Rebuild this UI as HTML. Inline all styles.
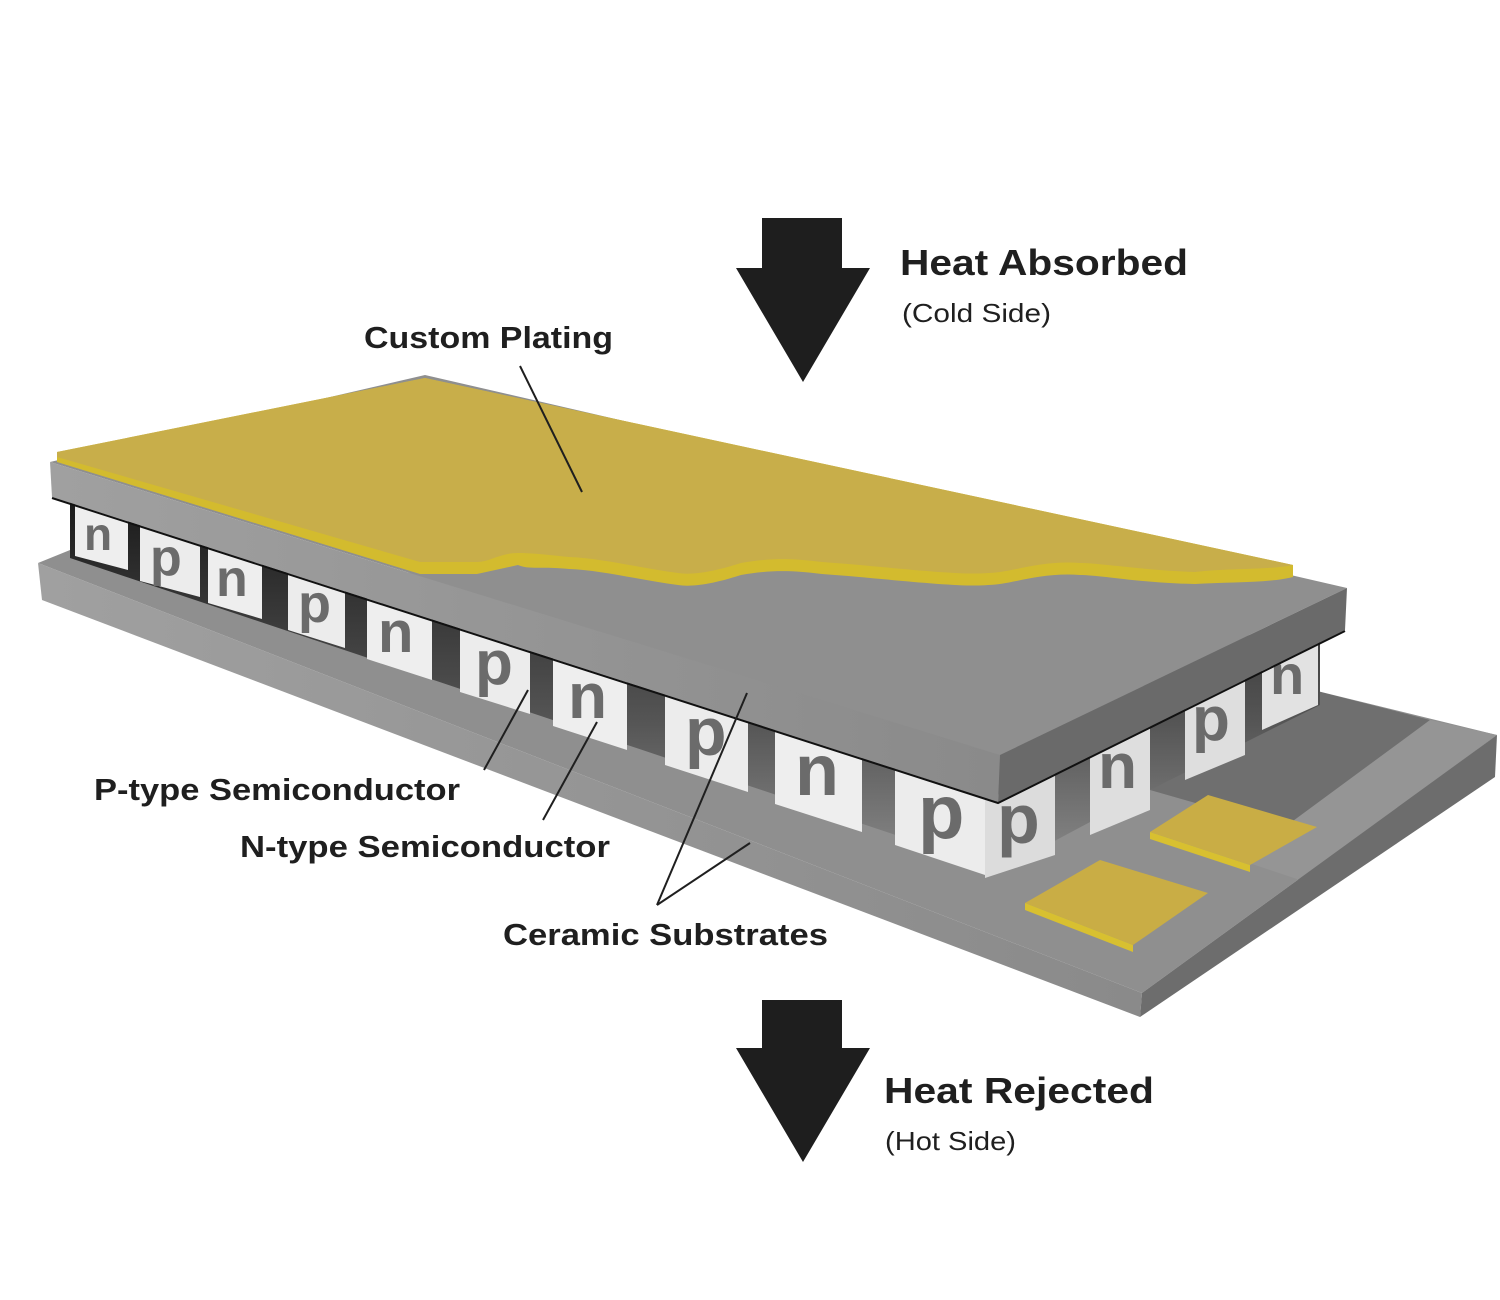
<!DOCTYPE html>
<html><head><meta charset="utf-8"><style>
html,body{margin:0;padding:0;background:#fff;}
svg{display:block;}
.b{font-family:"Liberation Sans",sans-serif;font-weight:bold;fill:#1f1f1f;}
.r{font-family:"Liberation Sans",sans-serif;fill:#1f1f1f;}
.L{font-family:"Liberation Sans",sans-serif;font-weight:bold;fill:#6b6b6b;}
</style></head><body>
<svg width="1500" height="1300" viewBox="0 0 1500 1300" xmlns="http://www.w3.org/2000/svg">
<defs>
<linearGradient id="gap" x1="0" y1="0" x2="0" y2="1">
<stop offset="0" stop-color="#1a1a1a"/><stop offset="0.6" stop-color="#555"/><stop offset="1" stop-color="#8a8a8a"/>
</linearGradient>
<linearGradient id="front" x1="0" y1="0" x2="1" y2="0">
<stop offset="0" stop-color="#a0a0a0"/><stop offset="1" stop-color="#8a8a8a"/>
</linearGradient>
</defs>

<!-- Bottom substrate -->
<polygon points="38,563 1142,993 1497,735 1313,690 1313,640 75,548" fill="#8f8f8f"/>
<polygon points="1150,790 1313,690 1430,720 1290,830" fill="#6f6f6f"/>
<polygon points="1430,720 1497,735 1300,880 1240,860" fill="#959595"/>
<polygon points="38,563 1142,993 1140,1017 42,600" fill="url(#front)"/>
<polygon points="1142,993 1497,735 1495,777 1140,1017" fill="#6d6d6d"/>

<!-- gold pads -->
<polygon points="1025,903 1100,860 1208,893 1133,945" fill="#c9ad45"/>
<polygon points="1025,903 1133,945 1133,952 1025,910" fill="#d8c030"/>
<polygon points="1150,832 1208,795 1317,827 1250,865" fill="#c9ad45"/>
<polygon points="1150,832 1250,865 1250,872 1150,839" fill="#d8c030"/>

<!-- gap between plates -->
<polygon points="70,499 998,802 1320,640 1320,705 1150,790 1000,870 70,558" fill="url(#gap)"/>

<!-- pellets front -->
<g>
<polygon points="75,504 128,521 128,570 75,556" fill="#eee"/><text x="84" y="550" class="L" font-size="46">n</text>
<polygon points="140,525 200,544 200,597 140,581" fill="#ececec"/><text x="150" y="575" class="L" font-size="52">p</text>
<polygon points="208,547 262,564 262,619 208,603" fill="#eee"/><text x="216" y="596" class="L" font-size="52">n</text>
<polygon points="288,573 345,591 345,648 288,630" fill="#ececec"/><text x="298" y="622" class="L" font-size="54">p</text>
<polygon points="367,598 432,619 432,680 367,659" fill="#eee"/><text x="378" y="652" class="L" font-size="58">n</text>
<polygon points="460,628 530,650 530,714 460,692" fill="#ececec"/><text x="475" y="684" class="L" font-size="62">p</text>
<polygon points="553,658 627,682 627,750 553,726" fill="#eee"/><text x="568" y="718" class="L" font-size="64">n</text>
<polygon points="665,694 748,721 748,792 665,765" fill="#ececec"/><text x="685" y="755" class="L" font-size="68">p</text>
<polygon points="775,730 862,758 862,832 775,804" fill="#eee"/><text x="795" y="795" class="L" font-size="72">n</text>
<polygon points="895,768 985,798 985,875 895,845" fill="#ececec"/><text x="918" y="838" class="L" font-size="76">p</text>
<polygon points="985,800 1055,770 1055,855 985,878" fill="#dcdcdc"/><text x="997" y="843" class="L" font-size="70">p</text>
<polygon points="1090,753 1150,725 1150,810 1090,835" fill="#dedede"/><text x="1098" y="788" class="L" font-size="64">n</text>
<polygon points="1185,706 1245,678 1245,755 1185,780" fill="#dedede"/><text x="1192" y="740" class="L" font-size="62">p</text>
<polygon points="1262,668 1318,642 1318,705 1262,730" fill="#e2e2e2"/><text x="1270" y="694" class="L" font-size="56">n</text>
</g>

<!-- Top substrate -->
<polygon points="50,462 425,375 1347,588 1000,755" fill="#8f8f8f"/>
<polygon points="50,462 1000,755 998,802 52,497" fill="url(#front)"/>
<polygon points="1000,755 1347,588 1345,630 998,802" fill="#6a6a6a"/>
<polyline points="52,498 998,803 1345,631" fill="none" stroke="#111" stroke-width="2"/>

<!-- Gold plating -->
<path d="M57,452 L425,378 L1293,565 L1293,577 C1270,583 1230,582 1195,584 C1140,583 1100,575 1080,575 C1040,572 1010,585 988,585 C960,588 880,578 822,574 C790,570 770,570 741,575 C710,585 690,587 678,585 C640,580 600,570 569,569 C540,566 530,570 518,565 L477,574 L420,574 L57,462 Z" fill="#d3bb2e"/>
<path d="M57,452 L425,378 L1293,565 C1270,570 1230,568 1195,572 C1140,570 1100,563 1080,563 C1040,560 1010,573 988,573 C960,576 880,566 822,562 C790,558 770,558 741,563 C710,573 690,575 678,573 C640,568 600,558 569,557 C540,554 530,553 518,553 C500,553 490,562 477,562 L420,562 L57,457 Z" fill="#c8ae4a"/>

<!-- Arrows -->
<polygon points="762,218 842,218 842,268 870,268 803,382 736,268 762,268" fill="#1e1e1e"/>
<polygon points="762,1000 842,1000 842,1048 870,1048 803,1162 736,1048 762,1048" fill="#1e1e1e"/>

<!-- Leader lines -->
<g stroke="#1f1f1f" stroke-width="2" fill="none">
<line x1="520" y1="366" x2="582" y2="492"/>
<line x1="484" y1="770" x2="528" y2="690"/>
<line x1="543" y1="820" x2="597" y2="722"/>
<line x1="657" y1="905" x2="747" y2="693"/>
<line x1="657" y1="905" x2="750" y2="843"/>
</g>

<!-- Labels -->
<text x="900" y="275" class="b" font-size="36" textLength="288" lengthAdjust="spacingAndGlyphs">Heat Absorbed</text>
<text x="902" y="322" class="r" font-size="26" textLength="149" lengthAdjust="spacingAndGlyphs">(Cold Side)</text>
<text x="884" y="1103" class="b" font-size="36" textLength="270" lengthAdjust="spacingAndGlyphs">Heat Rejected</text>
<text x="885" y="1150" class="r" font-size="26" textLength="131" lengthAdjust="spacingAndGlyphs">(Hot Side)</text>
<text x="364" y="348" class="b" font-size="31" textLength="249" lengthAdjust="spacingAndGlyphs">Custom Plating</text>
<text x="94" y="800" class="b" font-size="31" textLength="366" lengthAdjust="spacingAndGlyphs">P-type Semiconductor</text>
<text x="240" y="857" class="b" font-size="31" textLength="370" lengthAdjust="spacingAndGlyphs">N-type Semiconductor</text>
<text x="503" y="945" class="b" font-size="31" textLength="325" lengthAdjust="spacingAndGlyphs">Ceramic Substrates</text>
</svg>
</body></html>
